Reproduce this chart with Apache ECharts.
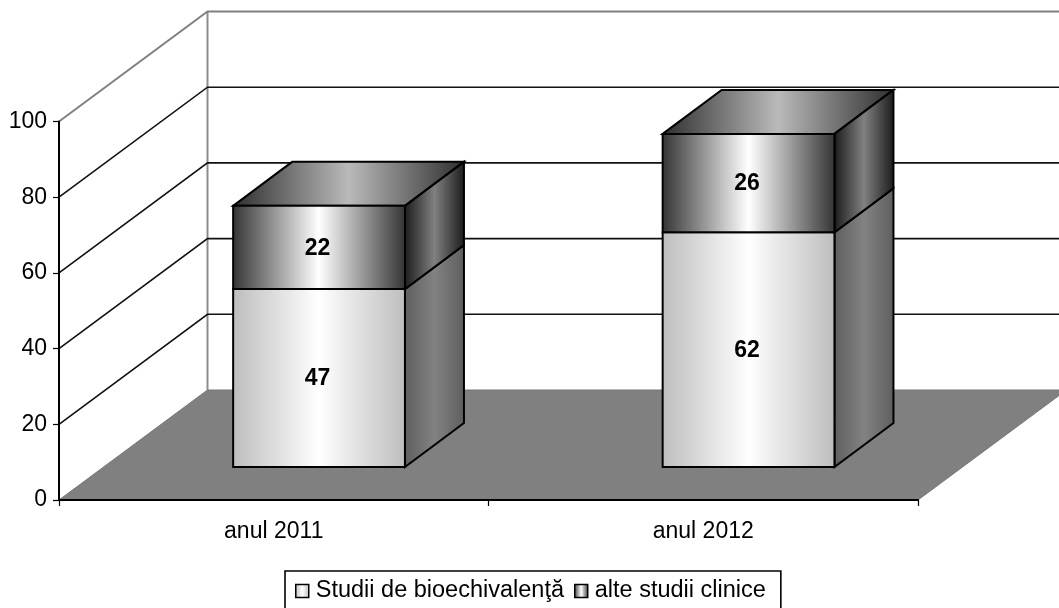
<!DOCTYPE html>
<html>
<head>
<meta charset="utf-8">
<style>html,body{margin:0;padding:0;background:#fff;overflow:hidden}#c{width:1059px;height:608px}</style>
<script src="https://cdn.jsdelivr.net/npm/echarts@6/dist/echarts.min.js"></script>
</head>
<body>
<div id="c"></div>
<script>
const categories = ['anul 2011', 'anul 2012'];
const bioechivalenta = [47, 62];
const alteStudii = [22, 26];
const yTicks = [0, 20, 40, 60, 80, 100];
const seriesNames = ['Studii de bioechivalenţă', 'alte studii clinice'];

// 3D projection styling (pixels)
const WALL_DX = 148.5, WALL_DY = 110;
const BAR_FRONT_DY = 33, BAR_DX = 59, BAR_DY = 44, BAR_SHIFT = 45.3;
const FONT = '"Liberation Sans", Arial, sans-serif';

const grad = (stops) => new echarts.graphic.LinearGradient(0, 0, 1, 0,
  stops.map((s) => ({ offset: s[0], color: s[1] })));
const lowFront = () => grad([[0,'#bdbdbd'],[0.5,'#ffffff'],[1,'#bdbdbd']]);
const lowSide = () => grad([[0,'#5e5e5e'],[0.5,'#828282'],[1,'#5e5e5e']]);
const topFront = () => grad([[0,'#333333'],[0.5,'#ffffff'],[1,'#333333']]);
const topSide = () => grad([[0,'#1a1a1a'],[0.5,'#808080'],[1,'#1a1a1a']]);
const topCap = () => grad([[0,'#2e2e2e'],[0.5,'#bababa'],[1,'#2e2e2e']]);

function wallItem(params, api) {
  const v = api.value(0);
  const a = api.coord([0, v]);
  const rect = params.coordSys;
  const left = rect.x, right = rect.x + rect.width;
  const y = a[1];
  const children = [];
  const grey = v === yTicks[yTicks.length - 1];
  if (v === yTicks[0]) {
    children.push({
      type: 'polygon',
      shape: { points: [[left, y], [left + WALL_DX, y - WALL_DY], [right + WALL_DX, y - WALL_DY], [right, y]] },
      style: { fill: '#808080', stroke: '#777777', lineWidth: 1 }
    });
    const topY = api.coord([0, yTicks[yTicks.length - 1]])[1];
    children.push({
      type: 'line',
      shape: { x1: left + WALL_DX, y1: topY - WALL_DY, x2: left + WALL_DX, y2: y - WALL_DY },
      style: { stroke: '#8c8c8c', lineWidth: 2 }
    });
  } else {
    const col = grey ? '#808080' : '#111111';
    children.push({
      type: 'polyline',
      shape: { points: [[left, y], [left + WALL_DX, y - WALL_DY], [right + WALL_DX, y - WALL_DY]] },
      style: { stroke: col, lineWidth: grey ? 2 : 1.6, fill: 'none' }
    });
  }
  return { type: 'group', children };
}

function barItem(params, api) {
  const top = params.seriesIndex === 2;
  const cat = api.value(0), val = api.value(1), base = api.value(2);
  const width = api.size([1, 0])[0] / 2.5;
  const cx = api.coord([cat, 0])[0] + BAR_SHIFT;
  const y0 = api.coord([cat, base])[1] - BAR_FRONT_DY;
  const y1 = api.coord([cat, base + val])[1] - BAR_FRONT_DY;
  const xl = cx - width / 2, xr = cx + width / 2;
  const edge = { stroke: '#000', lineWidth: 2, lineJoin: 'miter' };
  const children = [];
  if (top) {
    children.push({
      type: 'polygon',
      shape: { points: [[xl, y1], [xl + BAR_DX, y1 - BAR_DY], [xr + BAR_DX, y1 - BAR_DY], [xr, y1]] },
      style: Object.assign({ fill: topCap() }, edge)
    });
  }
  children.push({
    type: 'polygon',
    shape: { points: [[xr, y1], [xr + BAR_DX, y1 - BAR_DY], [xr + BAR_DX, y0 - BAR_DY], [xr, y0]] },
    style: Object.assign({ fill: top ? topSide() : lowSide() }, edge)
  });
  children.push({
    type: 'polygon',
    shape: { points: [[xl, y1], [xr, y1], [xr, y0], [xl, y0]] },
    style: Object.assign({ fill: top ? topFront() : lowFront() }, edge)
  });
  children.push({
    type: 'text',
    style: {
      text: String(val), x: cx - 1.5, y: (y0 + y1) / 2 + 1,
      align: 'center', verticalAlign: 'middle',
      font: 'bold 23px ' + FONT, fill: '#000'
    }
  });
  return { type: 'group', children };
}

const chart = echarts.init(document.getElementById('c'), null, { renderer: 'canvas' });
chart.setOption({
  animation: false,
  backgroundColor: '#ffffff',
  grid: { left: 59, top: 121.5, width: 859, height: 378.5, containLabel: false },
  xAxis: {
    type: 'category', data: categories, z: 5,
    axisLine: { lineStyle: { color: '#000', width: 2 } },
    axisTick: { show: true, length: 6, lineStyle: { color: '#000', width: 1.2 } },
    axisLabel: { color: '#000', fontFamily: FONT, fontSize: 23, margin: 20 },
    splitLine: { show: false }
  },
  yAxis: {
    type: 'value', min: 0, max: 100, interval: 20, z: 5,
    axisLine: { show: true, lineStyle: { color: '#000', width: 2 } },
    axisTick: { show: true, length: 6, lineStyle: { color: '#000', width: 1.2 } },
    axisLabel: { color: '#000', fontFamily: FONT, fontSize: 23, margin: 12 },
    splitLine: { show: false }
  },
  legend: {
    left: 285, top: 571, orient: 'horizontal',
    padding: [8, 15, 14, 10], itemGap: 10, itemWidth: 13, itemHeight: 13,
    borderColor: '#000', borderWidth: 1.6, backgroundColor: '#fff',
    selectedMode: false,
    textStyle: { color: '#000', fontFamily: FONT, fontSize: 23.5, padding: [0, 0, 0, 2] },
    data: [
      { name: seriesNames[0], icon: 'rect', itemStyle: { color: lowFront(), borderColor: '#000', borderWidth: 1.5 } },
      { name: seriesNames[1], icon: 'rect', itemStyle: { color: topFront(), borderColor: '#000', borderWidth: 1.5 } }
    ]
  },
  series: [
    {
      type: 'custom', name: 'walls', silent: true, z: 1, clip: false,
      renderItem: wallItem, encode: { y: 0 },
      data: yTicks.map((v) => [v])
    },
    {
      type: 'custom', name: seriesNames[0], z: 2, clip: false,
      renderItem: barItem, encode: { x: 0, y: 1 },
      data: bioechivalenta.map((v, i) => [i, v, 0])
    },
    {
      type: 'custom', name: seriesNames[1], z: 3, clip: false,
      renderItem: barItem, encode: { x: 0, y: 1 },
      data: alteStudii.map((v, i) => [i, v, bioechivalenta[i]])
    }
  ]
});
</script>
</body>
</html>
